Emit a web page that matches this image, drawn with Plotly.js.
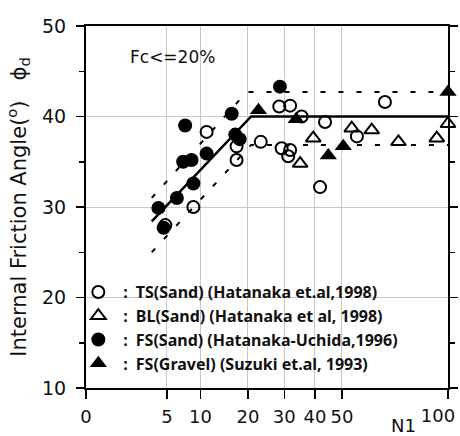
<!DOCTYPE html>
<html>
<head>
<meta charset="utf-8">
<script src="https://cdn.plot.ly/plotly-3.0.1.min.js"></script>
<style>html,body{margin:0;padding:0;background:#fff;}#chart{width:460px;height:436px;}</style>
</head>
<body>
<div id="chart"></div>
<script>
// ---- data (N1 values, friction angle in degrees) ----
const tsN   = [4.8, 8.8, 11.1, 17.3, 17.3, 23.3, 28.5, 31.8, 29.2, 31.8, 31.2, 35.5, 43.6, 41.8, 56, 68.2];
const tsPhi = [28.0, 30.0, 38.3, 36.7, 35.2, 37.2, 41.1, 41.2, 36.5, 36.3, 35.6, 40.0, 39.4, 32.2, 37.8, 41.6];

const blN   = [35, 39.4, 53.9, 62.3, 74.5, 93.9, 100];
const blPhi = [34.8, 37.6, 38.7, 38.5, 37.2, 37.6, 39.2];

const fsN   = [4.0, 4.6, 6.3, 7.2, 8.5, 7.5, 8.8, 11.1, 16.2, 17, 18, 28.7];
const fsPhi = [29.9, 27.7, 31.0, 35.0, 35.2, 39.0, 32.6, 35.9, 40.3, 38.0, 37.5, 43.3];

const fgN   = [22.7, 33.7, 44.8, 50.5, 100];
const fgPhi = [40.7, 39.7, 35.7, 36.7, 42.7];

const solidN = [3.3, 20.8, 100];
const solidPhi = [28.4, 40.0, 40.0];
const upperN = [3.3, 19.7, 100];
const upperPhi = [31.0, 42.7, 42.7];
const lowerN = [3.3, 20.8, 100];
const lowerPhi = [25.0, 36.85, 36.85];

const xTicks = [0, 5, 10, 20, 30, 40, 50, 100];
const xTickText = ['0', '5', '10', '20', '30', '40', '50', ''];
const xEndTick = [100];
const xEndText = ['100'];
const yTicks = [10, 20, 30, 40, 50];

const legendNames = [
  ":\u2002TS(Sand) (Hatanaka et.al,1998)",
  ":\u2002BL(Sand) (Hatanaka et al, 1998)",
  ":\u2002FS(Sand) (Hatanaka-Uchida,1996)",
  ":\u2002FS(Gravel) (Suzuki et.al, 1993)"
];

// the x axis of the original is a square-root scale
const sq = a => a.map(v => Math.sqrt(v));

const traces = [
  {x: sq(upperN), y: upperPhi, mode: 'lines', line: {color: '#000', width: 2, dash: '5px,13px'}, showlegend: false, hoverinfo: 'skip'},
  {x: sq(lowerN), y: lowerPhi, mode: 'lines', line: {color: '#000', width: 2, dash: '5px,13px'}, showlegend: false, hoverinfo: 'skip'},
  {x: sq(solidN), y: solidPhi, mode: 'lines', line: {color: '#000', width: 2.5}, showlegend: false, hoverinfo: 'skip'},
  {x: sq(tsN), y: tsPhi, mode: 'markers', name: legendNames[0], cliponaxis: false,
   marker: {symbol: 'circle-open', size: 12, color: '#000', line: {width: 2, color: '#000'}}},
  {x: sq(blN), y: blPhi, mode: 'markers', name: legendNames[1], cliponaxis: false,
   marker: {symbol: 'triangle-up-open', size: 13, color: '#000', line: {width: 2, color: '#000'}}},
  {x: sq(fsN), y: fsPhi, mode: 'markers', name: legendNames[2], cliponaxis: false,
   marker: {symbol: 'circle', size: 14, color: '#000'}},
  {x: sq(fgN), y: fgPhi, mode: 'markers', name: legendNames[3], cliponaxis: false,
   marker: {symbol: 'triangle-up', size: 15, color: '#000'}},
  // empty trace so the overlaid axis carrying the "100" label is drawn
  {x: [], y: [], xaxis: 'x2', yaxis: 'y', mode: 'markers', showlegend: false, hoverinfo: 'skip'}
];

const tickFontX = {family: 'DejaVu Sans', size: 18, color: '#111'};

const layout = {
  width: 460, height: 436,
  margin: {l: 86, r: 12, t: 26, b: 48},
  paper_bgcolor: '#fff', plot_bgcolor: '#fff',
  font: {family: 'DejaVu Sans', color: '#111'},
  showlegend: true,
  legend: {
    x: -0.035, y: 0.312, xanchor: 'left', yanchor: 'top',
    bgcolor: 'rgba(0,0,0,0)', borderwidth: 0,
    font: {family: 'Noto Sans', size: 16, weight: 'bold', color: '#111'},
    itemwidth: 40
  },
  xaxis: {
    range: [0, 10],
    tickmode: 'array', tickvals: sq(xTicks), ticktext: xTickText,
    ticks: 'outside', ticklen: 9, tickwidth: 1.5, tickcolor: '#000',
    ticklabelstandoff: 2,
    showline: true, linewidth: 2, linecolor: '#000', mirror: true,
    showgrid: true, gridcolor: '#c8c8c8', gridwidth: 1, zeroline: false,
    tickfont: tickFontX
  },
  // carries only the right-most tick label, nudged inwards as in the original
  xaxis2: {
    overlaying: 'x', anchor: 'y', side: 'bottom',
    range: [0, 10],
    tickmode: 'array', tickvals: sq(xEndTick), ticktext: xEndText,
    ticks: 'outside', ticklen: 9, tickcolor: 'rgba(0,0,0,0)',
    ticklabelstandoff: 2, ticklabelshift: -10,
    showline: false, showgrid: false, zeroline: false,
    tickfont: tickFontX
  },
  yaxis: {
    range: [10, 50],
    tickmode: 'array', tickvals: yTicks,
    ticks: 'outside', ticklen: 8, tickwidth: 1.5, tickcolor: '#000',
    ticklabelstandoff: 6,
    minor: {tickmode: 'array', tickvals: [15, 25, 35, 45], ticks: 'outside', ticklen: 5, tickwidth: 1.5, tickcolor: '#000', showgrid: false},
    showline: true, linewidth: 2, linecolor: '#000', mirror: 'ticks',
    showgrid: true, gridcolor: '#c8c8c8', gridwidth: 1, zeroline: false,
    tickfont: {family: 'DejaVu Sans', size: 19, color: '#111'},
    title: {text: 'Internal Friction Angle(<sup>o</sup>)\u00a0\u00a0\u00a0ϕ<sub>d</sub>',
            font: {family: 'DejaVu Sans', size: 21, color: '#111'}, standoff: 10}
  },
  annotations: [
    {xref: 'paper', yref: 'paper', x: 0.116, y: 0.914, xanchor: 'left', yanchor: 'middle',
     text: 'Fc<=20%', showarrow: false, font: {family: 'DejaVu Sans', size: 17, color: '#111'}},
    {xref: 'paper', yref: 'paper', x: 0.876, y: -0.104, xanchor: 'center', yanchor: 'middle',
     text: 'N1', showarrow: false, font: {family: 'DejaVu Sans', size: 18, color: '#111'}}
  ]
};

Plotly.newPlot('chart', traces, layout, {displayModeBar: false, staticPlot: true});
</script>
</body>
</html>
